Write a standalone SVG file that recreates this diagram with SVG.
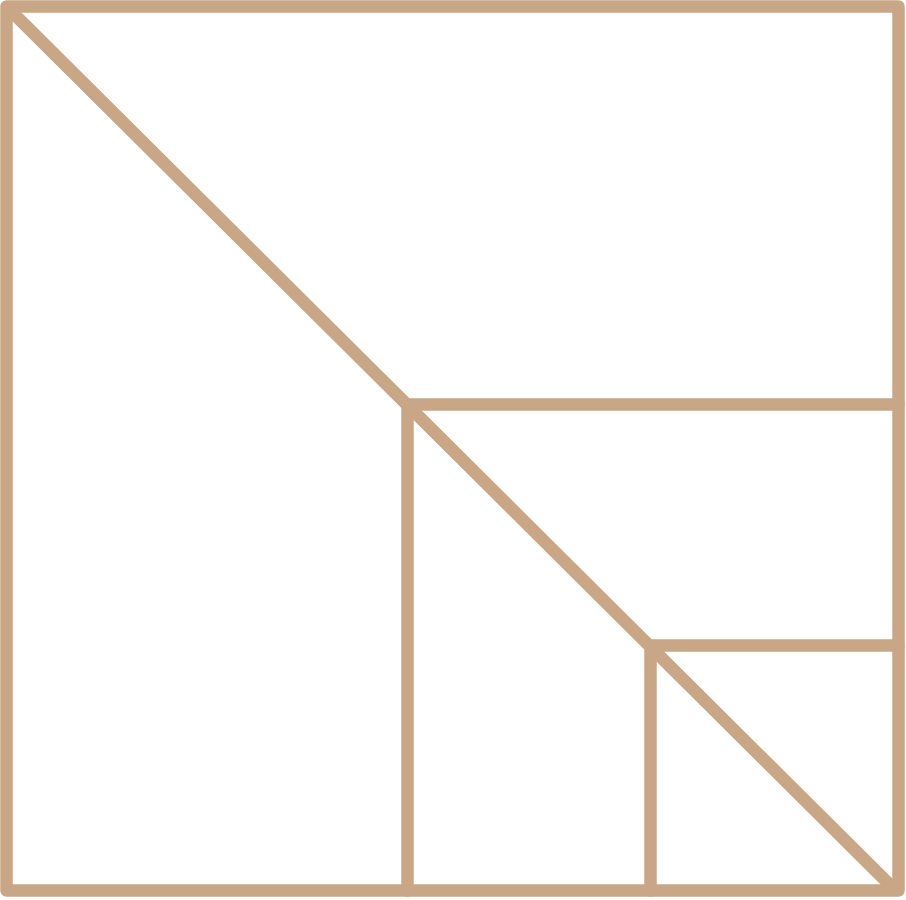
<svg xmlns="http://www.w3.org/2000/svg" width="906" height="900" viewBox="0 0 906 900">
<style>
.l{fill:none;stroke:#C8A686;stroke-width:12.5;stroke-linejoin:round;stroke-linecap:round}
</style>
<rect width="906" height="900" fill="#ffffff"/>
<g id="frame">
<path class="l" d="M6.5 6.5 H898.5 V890.5 H6.5 Z"/>
</g>
<g id="lines">
<path class="l" d="M8 8 L890 885"/>
<path class="l" d="M898.5 404.5 H407.5 V890.5"/>
<path class="l" d="M898.5 645.5 H650.5 V890.5"/>
</g>
</svg>
